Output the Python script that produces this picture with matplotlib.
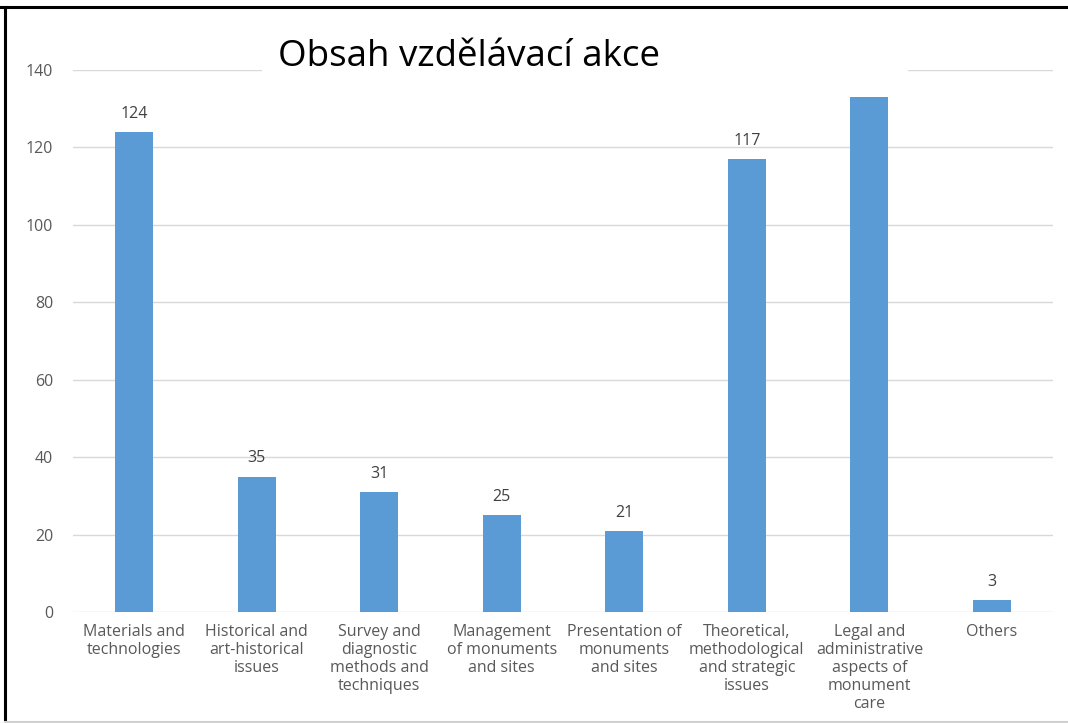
import matplotlib.pyplot as plt
from matplotlib import patches

categories = [
    "Materials and\ntechnologies",
    "Historical and\nart-historical\nissues",
    "Survey and\ndiagnostic\nmethods and\ntechniques",
    "Management\nof monuments\nand sites",
    "Presentation of\nmonuments\nand sites",
    "Theoretical,\nmethodological\nand strategic\nissues",
    "Legal and\nadministrative\naspects of\nmonument\ncare",
    "Others",
]
values = [124, 35, 31, 25, 21, 117, 133, 3]
yticks = [0, 20, 40, 60, 80, 100, 120, 140]
title = "Obsah vzdělávací akce"

bar_color = "#5B9BD5"
text_gray = "#595959"
grid_gray = "#D9D9D9"

plt.rcParams['font.family'] = ['Open Sans', 'DejaVu Sans']

W, H = 1068, 723
fig = plt.figure(figsize=(W / 100, H / 100), dpi=100)
# axes placed to match the reference pixel layout
ax = fig.add_axes([72.7 / W, 1 - 612 / H, (1053.3 - 72.7) / W, (612 - 70) / H])

x = list(range(len(categories)))
ax.bar(x, values, width=0.31, color=bar_color, zorder=2)

for xi, v in zip(x, values):
    ax.text(xi, v + 2.6, str(v), ha='center', va='bottom',
            fontsize=11.5, color="#404040", zorder=3)

ax.set_xlim(-0.5, len(categories) - 0.5)
ax.set_ylim(0, 140)
ax.set_yticks(yticks)
ax.set_xticks(x)
ax.set_xticklabels(categories, fontsize=11.5, color=text_gray, linespacing=1.15)
ax.tick_params(axis='y', labelsize=11.5, labelcolor=text_gray, length=0, pad=14)
ax.tick_params(axis='x', length=0, pad=9)
ax.grid(axis='y', color=grid_gray, linewidth=1, zorder=0)
for s in ax.spines.values():
    s.set_visible(False)

# white box behind the title hides part of the top gridline and the 133 label
cover = patches.Rectangle((262 / W, 1 - 96 / H), (908 - 262) / W, 66 / H,
                          transform=fig.transFigure, facecolor='white',
                          edgecolor='none', zorder=5)
fig.patches.append(cover)
fig.text(469 / W, 1 - 57 / H, title, ha='center', va='center', fontsize=26.5,
         color='black', zorder=10)

# frame: black top and left, faint gray bottom
fig.add_artist(plt.Line2D([0, 1], [1 - 7 / H, 1 - 7 / H], color='black',
                          linewidth=2.2, transform=fig.transFigure))
fig.add_artist(plt.Line2D([5 / W, 5 / W], [0, 1 - 7 / H], color='black',
                          linewidth=2.2, transform=fig.transFigure))
fig.add_artist(plt.Line2D([5 / W, 1], [0.0015, 0.0015], color='#D0D0D0',
                          linewidth=1.5, transform=fig.transFigure))

fig.savefig("out.png", dpi=100)
